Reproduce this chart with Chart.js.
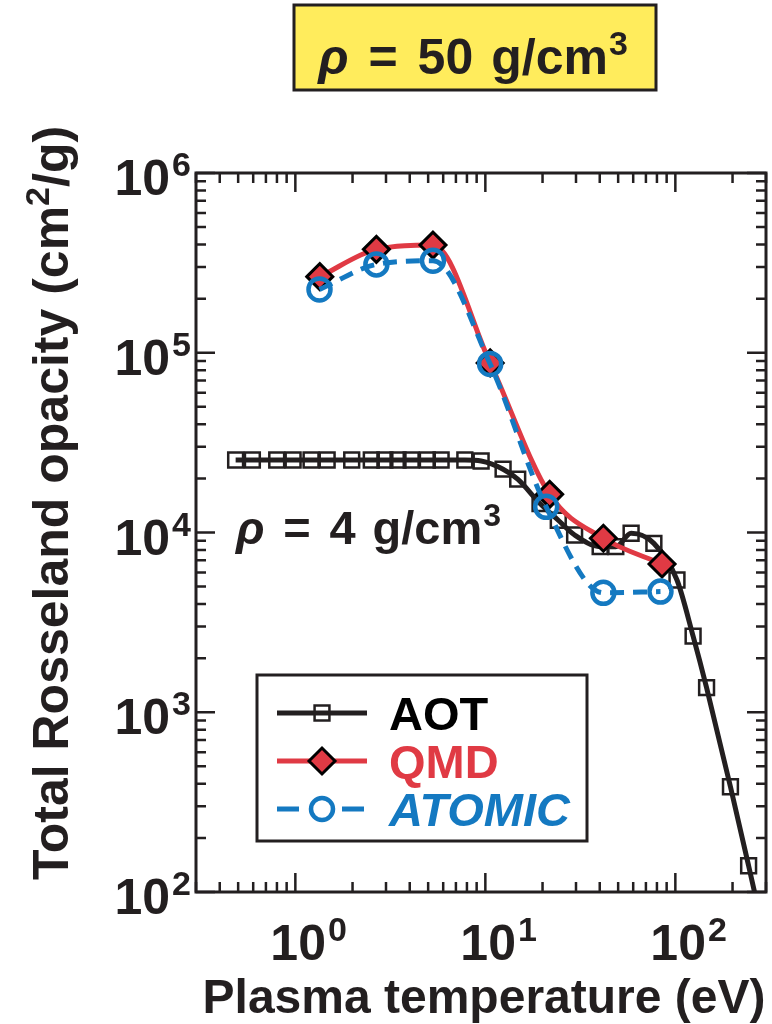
<!DOCTYPE html>
<html>
<head>
<meta charset="utf-8">
<script src="https://cdn.jsdelivr.net/npm/chart.js@4/dist/chart.umd.min.js"></script>
<style>
  html, body { margin: 0; padding: 0; background: #fff; overflow: hidden; }
  canvas { display: block; }
</style>
</head>
<body>
<canvas id="myChart" width="782" height="1024"></canvas>
<script>
// AOT (rho = 4 g/cm3)
const aotTemp = [0.485, 0.594, 0.798, 0.973, 1.21, 1.47, 1.98, 2.51, 2.96, 3.47, 4.07, 4.95, 5.85, 7.8, 9.5,
                 12.4, 14.8, 19.4, 24.2, 29.5, 40.2, 48.6, 58.5, 77.1, 102, 124, 146, 195, 243, 300];
const aotOpacity = [2.53e4, 2.53e4, 2.53e4, 2.53e4, 2.53e4, 2.53e4, 2.53e4, 2.53e4, 2.53e4, 2.53e4, 2.53e4, 2.53e4, 2.53e4, 2.53e4, 2.5e4,
                    2.25e4, 1.98e4, 1.45e4, 1.17e4, 9.69e3, 8.34e3, 8.34e3, 9.9e3, 8.7e3, 5.44e3, 2.65e3, 1.37e3, 385, 140, 52];
// QMD (rho = 50 g/cm3)
const qmdTemp = [1.345, 2.67, 5.3, 10.6, 21.8, 41.8, 85.1];
const qmdOpacity = [2.65e5, 3.76e5, 3.97e5, 8.77e4, 1.63e4, 9.29e3, 6.68e3];
// ATOMIC (rho = 50 g/cm3)
const atomicTemp = [1.34, 2.67, 5.3, 10.6, 20.9, 41.8, 83.5];
const atomicOpacity = [2.25e5, 3.1e5, 3.25e5, 8.66e4, 1.39e4, 4.62e3, 4.69e3];

const xTickValues = [1, 10, 100];
const xTickExp = ['0', '1', '2'];
const yTickValues = [1e2, 1e3, 1e4, 1e5, 1e6];
const yTickExp = ['2', '3', '4', '5', '6'];

const seriesNames = ['AOT', 'QMD', 'ATOMIC'];

const INK = '#231f20';
const RED = '#e03a44';
const BLUE = '#1479c1';
const FONT = '"Liberation Sans", Arial, Helvetica, sans-serif';

const toXY = (xs, ys) => xs.map((x, i) => ({ x: x, y: ys[i] }));

// draw a row of text pieces (for superscripts), sx = horizontal squeeze
function drawRich(ctx, parts, x, y, align) {
    let total = 0;
    const widths = parts.map(p => {
        ctx.font = (p.style || 'bold') + ' ' + p.size + 'px ' + FONT;
        const w = ctx.measureText(p.text).width * (p.sx || 1) + (p.gap || 0);
        total += w;
        return w;
    });
    let cx = x;
    if (align === 'center') cx = x - total / 2;
    if (align === 'right') cx = x - total;
    parts.forEach((p, i) => {
        ctx.save();
        ctx.font = (p.style || 'bold') + ' ' + p.size + 'px ' + FONT;
        ctx.fillStyle = p.color || INK;
        ctx.textBaseline = 'alphabetic';
        ctx.textAlign = 'left';
        ctx.translate(cx + (p.gap || 0), y + (p.dy || 0));
        ctx.scale(p.sx || 1, 1);
        ctx.fillText(p.text, 0, 0);
        ctx.restore();
        cx += widths[i];
    });
}

function rhoLabel(value, s) {
    const k = s / 50;
    return [
        { text: 'ρ', size: s, style: 'italic bold' },
        { text: '=', size: s, gap: 20 * k },
        { text: value, size: s, gap: 20 * k },
        { text: 'g/cm', size: s, gap: 18 * k },
        { text: '3', size: Math.round(s * 0.68), dy: -19 * k, gap: 1 }
    ];
}

const framePlugin = {
    id: 'frame',
    afterDatasetsDraw(chart) {
        const ctx = chart.ctx;
        const a = chart.chartArea;
        const xs = chart.scales.x, ys = chart.scales.y;
        ctx.save();
        ctx.strokeStyle = INK;
        ctx.lineWidth = 3;
        ctx.strokeRect(a.left, a.top, a.right - a.left, a.bottom - a.top);
        ctx.lineWidth = 2.5;
        ctx.beginPath();
        for (let k = -1; k <= 3; k++) {
            for (let m = 1; m <= 9; m++) {
                const v = m * Math.pow(10, k);
                if (v < xs.min * 0.999 || v > xs.max * 1.001) continue;
                const px = xs.getPixelForValue(v);
                const len = m === 1 ? 19 : 10;
                ctx.moveTo(px, a.bottom); ctx.lineTo(px, a.bottom - len);
                ctx.moveTo(px, a.top); ctx.lineTo(px, a.top + len);
            }
        }
        for (let k = 2; k <= 6; k++) {
            for (let m = 1; m <= 9; m++) {
                const v = m * Math.pow(10, k);
                if (v < ys.min * 0.999 || v > ys.max * 1.001) continue;
                const py = ys.getPixelForValue(v);
                const len = m === 1 ? 19 : 10;
                ctx.moveTo(a.left, py); ctx.lineTo(a.left + len, py);
                ctx.moveTo(a.right, py); ctx.lineTo(a.right - len, py);
            }
        }
        ctx.stroke();

        // tick labels
        xTickValues.forEach((v, i) => {
            const px = xs.getPixelForValue(v);
            drawRich(ctx, [
                { text: '10', size: 50 },
                { text: xTickExp[i], size: 34, dy: -19, gap: 2 }
            ], px - 25, 960, 'left');
        });
        yTickValues.forEach((v, i) => {
            const py = ys.getPixelForValue(v);
            drawRich(ctx, [
                { text: '10', size: 50 },
                { text: yTickExp[i], size: 34, dy: -19, gap: 2 }
            ], a.left - 5, py + 22, 'right');
        });

        // axis titles
        drawRich(ctx, [{ text: 'Plasma temperature (eV)', size: 48 }], 484, 1013, 'center');
        ctx.save();
        ctx.translate(68, 503);
        ctx.rotate(-Math.PI / 2);
        drawRich(ctx, [
            { text: 'Total Rosseland opacity (cm', size: 50 },
            { text: '2', size: 34, dy: -19 },
            { text: '/g)', size: 50 }
        ], 0, 0, 'center');
        ctx.restore();

        // density annotations
        drawRich(ctx, rhoLabel('4', 47), 236, 544, 'left');

        ctx.fillStyle = '#ffec5c';
        ctx.fillRect(294, 5, 362, 85);
        ctx.lineWidth = 3;
        ctx.strokeStyle = INK;
        ctx.strokeRect(294, 5, 362, 85);
        drawRich(ctx, rhoLabel('50', 50), 473, 74, 'center');

        // legend
        ctx.fillStyle = '#fff';
        ctx.fillRect(257, 675, 330, 166);
        ctx.lineWidth = 3;
        ctx.strokeRect(257, 675, 330, 166);
        const rows = [713, 761, 809];
        const ds = chart.data.datasets;
        rows.forEach((ry, i) => {
            const d = ds[i];
            ctx.strokeStyle = d.borderColor;
            ctx.lineWidth = d.borderWidth;
            ctx.beginPath();
            if (d.borderDash) {
                ctx.moveTo(277, ry); ctx.lineTo(299, ry);
                ctx.moveTo(342, ry); ctx.lineTo(364, ry);
            } else {
                ctx.moveTo(277, ry); ctx.lineTo(367, ry);
            }
            ctx.stroke();
            ctx.fillStyle = d.pointBackgroundColor;
            ctx.strokeStyle = d.pointBorderColor;
            ctx.lineWidth = d.pointBorderWidth;
            Chart.helpers.drawPoint(ctx, {
                pointStyle: d.pointStyle, radius: d.pointRadius,
                rotation: 0, borderWidth: d.pointBorderWidth
            }, 322, ry);
            drawRich(ctx, [{
                text: seriesNames[i], size: 47, color: i === 0 ? '#000' : d.borderColor,
                style: i === 2 ? 'italic bold' : 'bold'
            }], 389, ry + 17, 'left');
        });
        ctx.restore();
    }
};

const ctx = document.getElementById('myChart').getContext('2d');
new Chart(ctx, {
    type: 'scatter',
    data: {
        datasets: [{
            label: seriesNames[0],
            data: toXY(aotTemp, aotOpacity),
            showLine: true,
            borderColor: INK,
            borderWidth: 5,
            cubicInterpolationMode: 'monotone',
            pointStyle: 'rect',
            pointRadius: 10.5,
            pointBorderWidth: 2.5,
            pointBorderColor: INK,
            pointBackgroundColor: 'rgba(0,0,0,0)',
            order: 3
        }, {
            label: seriesNames[1],
            data: toXY(qmdTemp, qmdOpacity),
            showLine: true,
            borderColor: RED,
            borderWidth: 5,
            cubicInterpolationMode: 'monotone',
            pointStyle: 'rectRot',
            pointRadius: 13,
            pointBorderWidth: 3,
            pointBorderColor: '#000',
            pointBackgroundColor: RED,
            order: 2
        }, {
            label: seriesNames[2],
            data: toXY(atomicTemp, atomicOpacity),
            showLine: true,
            borderColor: BLUE,
            borderWidth: 5,
            borderDash: [14, 9],
            cubicInterpolationMode: 'monotone',
            pointStyle: 'circle',
            pointRadius: 11,
            pointBorderWidth: 4.5,
            pointBorderColor: BLUE,
            pointBackgroundColor: 'rgba(0,0,0,0)',
            order: 1
        }]
    },
    options: {
        responsive: false,
        animation: false,
        devicePixelRatio: 1,
        layout: { padding: { left: 196, right: 3, top: 173, bottom: 132 } },
        scales: {
            x: { type: 'logarithmic', min: 0.3, max: 300, display: false },
            y: { type: 'logarithmic', min: 100, max: 1e6, display: false }
        },
        plugins: {
            legend: { display: false },
            tooltip: { enabled: false }
        }
    },
    plugins: [framePlugin]
});
</script>
</body>
</html>
